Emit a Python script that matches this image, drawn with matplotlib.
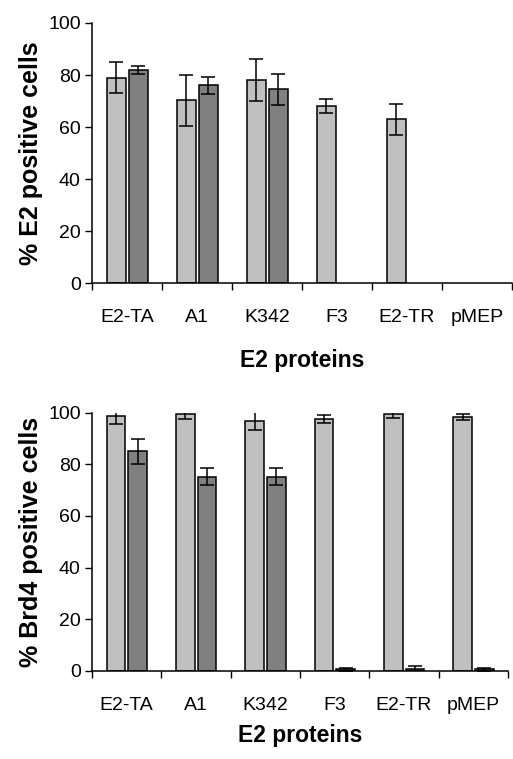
import numpy as np
import matplotlib.pyplot as plt

plt.rcParams['font.family'] = ['Liberation Sans', 'DejaVu Sans']

categories = ['E2-TA', 'A1', 'K342', 'F3', 'E2-TR', 'pMEP']

# % E2 positive cells (0 = no bar)
e2_light = [79, 70.2, 78, 68, 63, 0]
e2_light_err = [6, 9.7, 8, 2.8, 6, 0]
e2_dark = [82, 76, 74.5, 0, 0, 0]
e2_dark_err = [1.5, 3.2, 6, 0, 0, 0]

# % Brd4 positive cells
brd4_light = [98.8, 99.5, 96.8, 97.5, 99.4, 98.2]
brd4_light_err = [3, 2, 3.5, 1.6, 1.4, 1.2]
brd4_dark = [85, 75.2, 75.2, 0.5, 0.5, 0.5]
brd4_dark_err = [5, 3.4, 3.4, 0.5, 1.5, 0.5]

light_col = '#c0c0c0'
dark_col = '#808080'

fig = plt.figure(figsize=(5.13, 7.59), dpi=100)
ax1 = fig.add_axes([0.1793, 0.6271, 0.8187, 0.3426])
ax2 = fig.add_axes([0.1793, 0.1163, 0.811, 0.3399])

x = np.arange(len(categories)) + 0.5
w = 0.27


def bars(ax, pos, vals, errs, col):
    # skip empty entries so no outline is drawn at zero
    px = [p for p, v in zip(pos, vals) if v > 0]
    pv = [v for v in vals if v > 0]
    pe = [e for v, e in zip(vals, errs) if v > 0]
    ax.bar(px, pv, w, color=col, edgecolor='black', linewidth=1.1)
    ax.errorbar(px, pv, yerr=pe, fmt='none', ecolor='black',
                elinewidth=1.1, capsize=5, capthick=1.1)


def draw(ax, light, light_err, dark, dark_err, ylabel):
    bars(ax, x - 0.155, light, light_err, light_col)
    bars(ax, x + 0.16, dark, dark_err, dark_col)

    ax.set_xlim(0, 6)
    ax.set_ylim(0, 100)
    ax.set_yticks([0, 20, 40, 60, 80, 100])
    ax.set_xticks(np.arange(0, 7))
    ax.set_xticklabels([])
    ax.set_xticks(x, minor=True)
    ax.set_xticklabels(categories, minor=True, fontsize=14)
    ax.tick_params(axis='x', which='major', direction='out', length=5, width=1)
    ax.tick_params(axis='x', which='minor', length=0, pad=19)
    ax.tick_params(axis='y', direction='out', length=5, width=1, labelsize=14, pad=3)
    for s in ['top', 'right']:
        ax.spines[s].set_visible(False)
    for s in ['left', 'bottom']:
        ax.spines[s].set_linewidth(1.1)
    ax.set_ylabel(ylabel, fontsize=18, fontweight='bold')
    ax.set_xlabel('E2 proteins', fontsize=16.5, fontweight='bold')


draw(ax1, e2_light, e2_light_err, e2_dark, e2_dark_err, '% E2 positive cells')
draw(ax2, brd4_light, brd4_light_err, brd4_dark, brd4_dark_err, '% Brd4 positive cells')

ax1.xaxis.set_label_coords(0.5, -0.252)
ax2.xaxis.set_label_coords(0.5, -0.206)
ax1.yaxis.set_label_coords(-0.117, 0.5)
ax2.yaxis.set_label_coords(-0.117, 0.5)

fig.savefig('out.png', dpi=100)
